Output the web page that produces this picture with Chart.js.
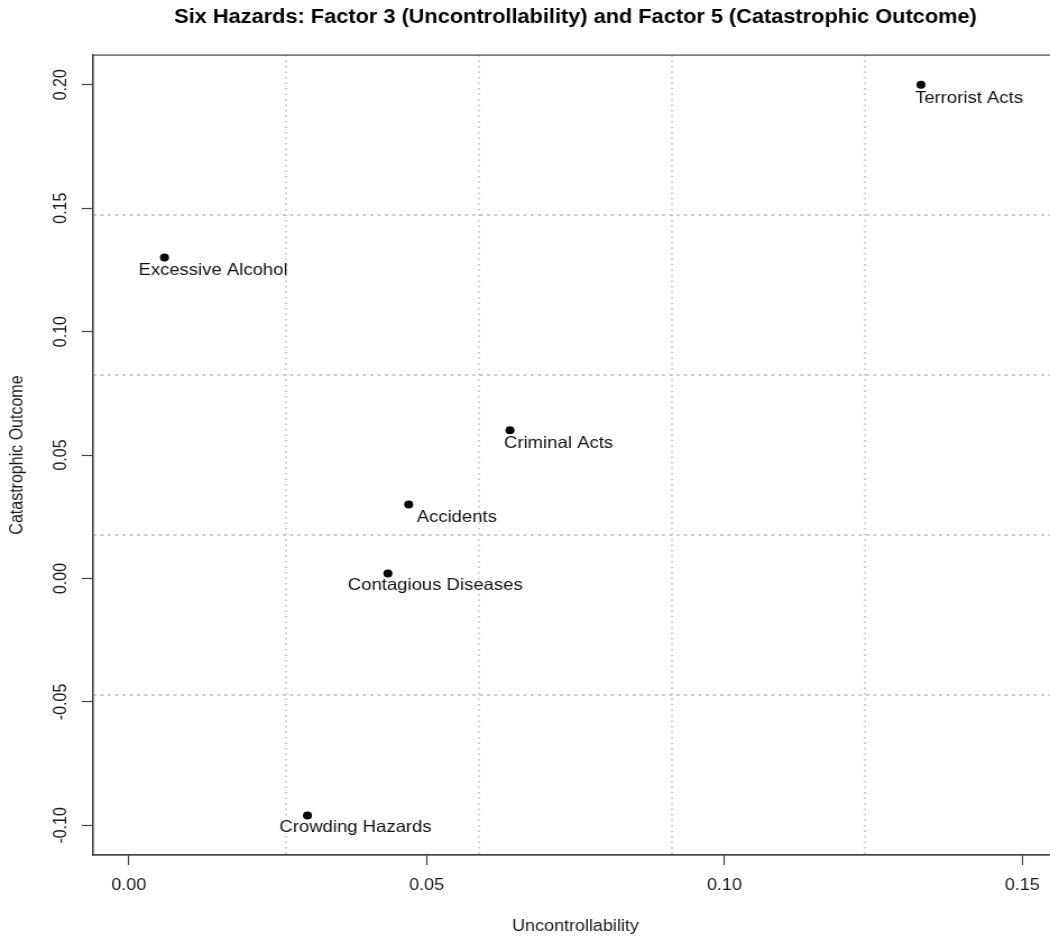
<!DOCTYPE html>
<html>
<head>
<meta charset="utf-8">
<script src="https://cdn.jsdelivr.net/npm/chart.js@4.4.1/dist/chart.umd.min.js"></script>
<style>
  html, body { margin: 0; padding: 0; background: #ffffff; overflow: hidden; width: 1050px; height: 936px; }
  #wrap { position: absolute; left: 0; top: 0; width: 960px; height: 936px; transform: scaleX(1.12179); transform-origin: 0 0; }
</style>
</head>
<body>
<div id="wrap"><canvas id="c"></canvas></div>
<script>
// ---- data ----
const hazards = ['Terrorist Acts', 'Excessive Alcohol', 'Criminal Acts', 'Accidents', 'Contagious Diseases', 'Crowding Hazards'];
const uncontrollability = [0.133, 0.006, 0.064, 0.047, 0.0435, 0.030];
const catastrophicOutcome = [0.200, 0.130, 0.060, 0.030, 0.002, -0.096];
const xTicks = [0.00, 0.05, 0.10, 0.15];
const yTicks = [-0.10, -0.05, 0.00, 0.05, 0.10, 0.15, 0.20];
const xLimits = [0.00, 0.15];
const yLimits = [-0.10, 0.20];

// ---- styling ----
const FONT = '"Liberation Sans", Arial, Helvetica, sans-serif';
const labelOffsets = [[-5.3, 14], [-23.2, 13], [-5.3, 13], [7.1, 13], [-35.7, 12], [-25, 12]];
const TEXT_COLOR = '#1a1a1a';
const AXIS_COLOR = '#444';

// R style 4% axis extension
const xr = xLimits[1] - xLimits[0], yr = yLimits[1] - yLimits[0];
const xMin = xLimits[0] - 0.04 * xr, xMax = xLimits[1] + 0.04 * xr;
const yMin = yLimits[0] - 0.04 * yr, yMax = yLimits[1] + 0.04 * yr;

const points = uncontrollability.map((x, i) => ({ x: x, y: catastrophicOutcome[i] }));

const gridPlugin = {
  id: 'rgrid',
  beforeDatasetsDraw(chart) {
    const { ctx, chartArea: a, scales: { x, y } } = chart;
    ctx.save();
    ctx.strokeStyle = '#bdbdbd';
    ctx.lineWidth = 1.5;
    for (let k = 1; k < 5; k++) {
      const px = x.getPixelForValue(x.min + k * (x.max - x.min) / 5);
      ctx.setLineDash([1.5, 4]);
      ctx.beginPath(); ctx.moveTo(px, a.top); ctx.lineTo(px, a.bottom); ctx.stroke();
      const py = y.getPixelForValue(y.min + k * (y.max - y.min) / 5);
      ctx.setLineDash([3, 3.5]);
      ctx.beginPath(); ctx.moveTo(a.left, py); ctx.lineTo(a.right, py); ctx.stroke();
    }
    ctx.restore();
  },
  afterDraw(chart) {
    const { ctx, chartArea: a } = chart;
    ctx.save();
    ctx.strokeStyle = AXIS_COLOR;
    ctx.lineWidth = 1.2;
    ctx.strokeRect(a.left, a.top, a.right - a.left, a.bottom - a.top);
    ctx.restore();
  }
};

const labelPlugin = {
  id: 'rlabels',
  afterDatasetsDraw(chart) {
    const { ctx } = chart;
    const meta = chart.getDatasetMeta(0);
    ctx.save();
    ctx.font = '16.5px ' + FONT;
    ctx.fillStyle = '#111';
    ctx.textAlign = 'left';
    ctx.textBaseline = 'middle';
    meta.data.forEach((el, i) => {
      const off = labelOffsets[i];
      ctx.fillText(hazards[i], el.x + off[0], el.y + off[1]);
    });
    ctx.restore();
  }
};

new Chart(document.getElementById('c'), {
  type: 'scatter',
  data: {
    datasets: [{
      label: 'Hazards',
      data: points,
      pointRadius: 4,
      pointHoverRadius: 4,
      pointBackgroundColor: '#000',
      pointBorderWidth: 0,
      showLine: false
    }]
  },
  options: {
    responsive: true,
    maintainAspectRatio: false,
    animation: false,
    events: [],
    layout: { padding: { left: 0, top: 0, right: 16.9, bottom: 0 } },
    plugins: {
      legend: { display: false },
      tooltip: { enabled: false },
      title: {
        display: true,
        fullSize: false,
        text: 'Six Hazards: Factor 3 (Uncontrollability) and Factor 5 (Catastrophic Outcome)',
        color: '#000',
        font: { family: FONT, size: 19.4, weight: 'bold', lineHeight: 1.2 },
        padding: { top: 6, bottom: 25.8 }
      }
    },
    scales: {
      x: {
        type: 'linear',
        position: 'bottom',
        min: xMin,
        max: xMax,
        afterBuildTicks(scale) { scale.ticks = xTicks.map(v => ({ value: v })); },
        afterFit(scale) { scale.height = 81; },
        ticks: {
          callback: v => Number(v).toFixed(2),
          color: TEXT_COLOR,
          font: { family: FONT, size: 16 },
          padding: 11.4,
          maxRotation: 0,
          minRotation: 0,
          autoSkip: false
        },
        grid: { drawOnChartArea: false, drawTicks: true, tickLength: 10, tickColor: AXIS_COLOR, tickWidth: 1.2 },
        border: { display: true, color: AXIS_COLOR, width: 1.2 },
        title: {
          display: true,
          text: 'Uncontrollability',
          color: TEXT_COLOR,
          font: { family: FONT, size: 16 },
          padding: 0
        }
      },
      y: {
        type: 'linear',
        position: 'left',
        min: yMin,
        max: yMax,
        afterBuildTicks(scale) { scale.ticks = yTicks.map(v => ({ value: v })); },
        afterFit(scale) { scale.width = 82.9; },
        ticks: {
          callback: v => Number(v).toFixed(2),
          color: TEXT_COLOR,
          font: { family: FONT, size: 16 },
          padding: 0,
          minRotation: 90,
          maxRotation: 90,
          crossAlign: 'center',
          autoSkip: false
        },
        grid: { drawOnChartArea: false, drawTicks: true, tickLength: 10, tickColor: AXIS_COLOR, tickWidth: 1.2 },
        border: { display: true, color: AXIS_COLOR, width: 1.2 },
        title: {
          display: true,
          text: 'Catastrophic Outcome',
          color: TEXT_COLOR,
          font: { family: FONT, size: 16 },
          padding: 5.6
        }
      }
    }
  },
  plugins: [gridPlugin, labelPlugin]
});
</script>
</body>
</html>
